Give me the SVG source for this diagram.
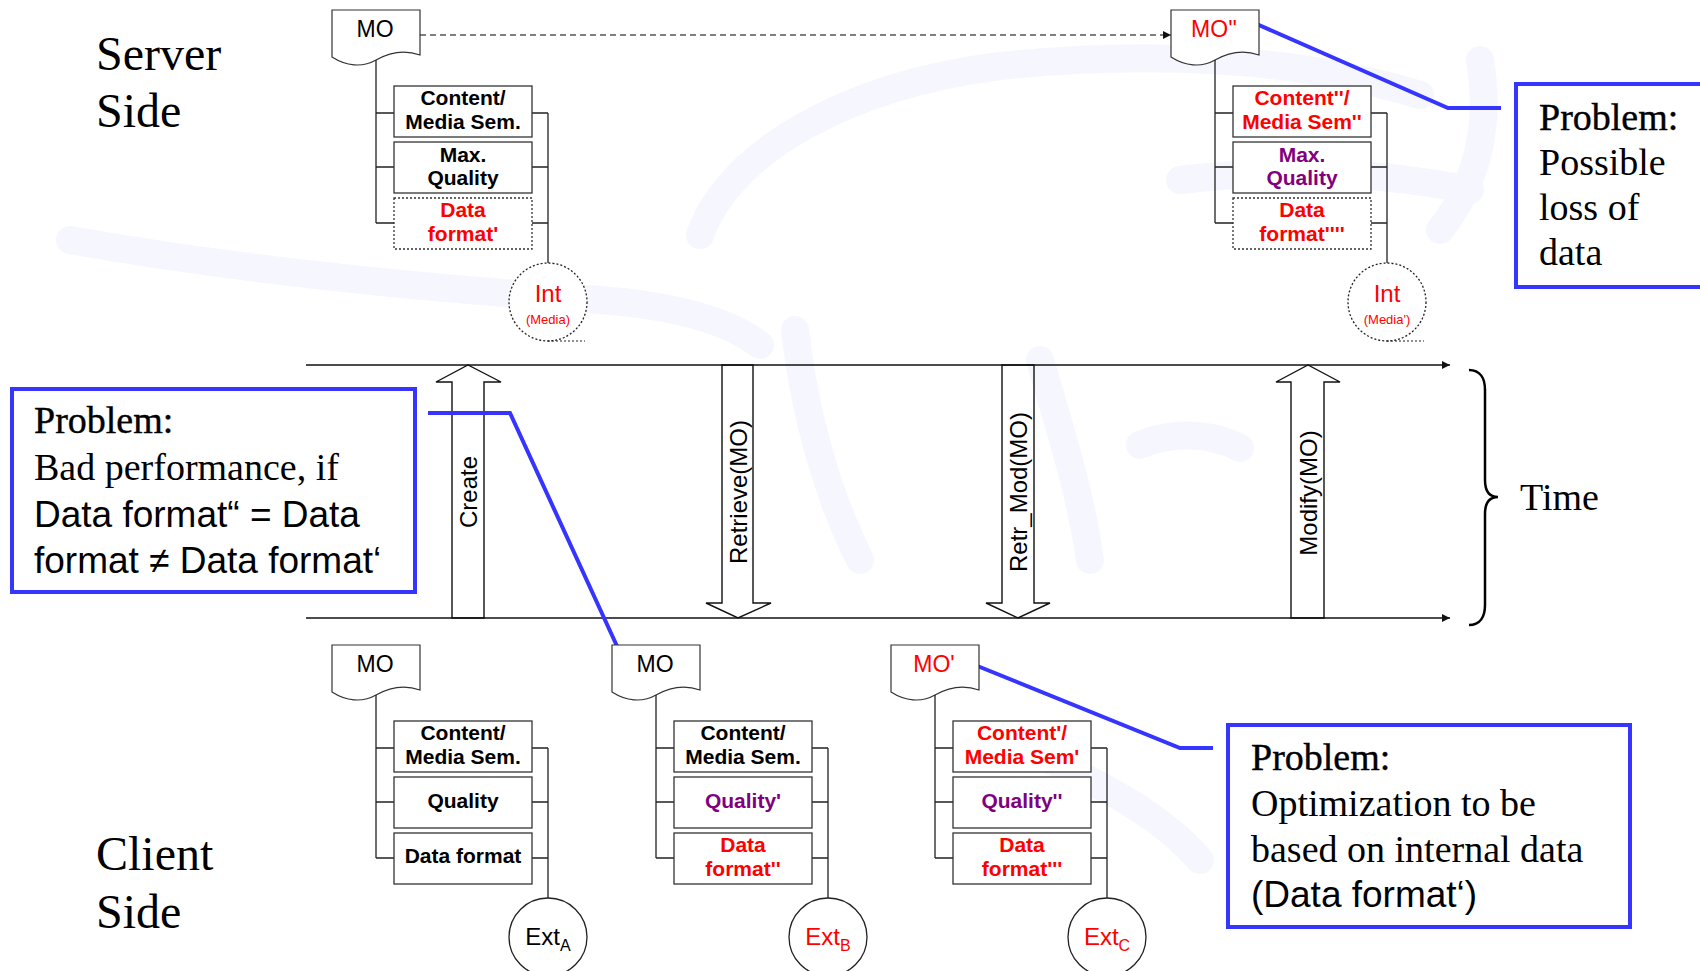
<svg xmlns="http://www.w3.org/2000/svg" width="1700" height="971" viewBox="0 0 1700 971">
  <style>
    .side { font-family: "Liberation Serif", "Times New Roman", serif; font-size: 48px; fill: #000; }
    .serif { font-family: "Liberation Serif", "Times New Roman", serif; font-size: 38px; fill: #000; }
    .head { stroke: #000; stroke-width: 0.4; }
    .sans { font-family: "Liberation Sans", Arial, sans-serif; font-size: 37px; fill: #000; }
    .doc { fill: #fff; stroke: #333; stroke-width: 1.2; }
    .docText { font-family: "Liberation Sans", Arial, sans-serif; font-size: 23px; text-anchor: middle; }
    .box { fill: #fff; stroke: #333; stroke-width: 1.3; }
    .dash { stroke-dasharray: 2 2; }
    .attr { font-family: "Liberation Sans", Arial, sans-serif; font-size: 21px; font-weight: bold; text-anchor: middle; }
    .tree { fill: none; stroke: #222; stroke-width: 1.3; }
    .circ { fill: #fff; stroke: #222; stroke-width: 1.3; }
    .circText { font-family: "Liberation Sans", Arial, sans-serif; font-size: 24px; text-anchor: middle; }
    .small { font-size: 13px; }
    .red { fill: #ff0000; }
    .purple { fill: #800080; }
    .black { fill: #000; }
    .axis { fill: none; stroke: #111; stroke-width: 1.5; }
    .block { fill: none; stroke: #111; stroke-width: 1.4; }
    .opLabel { font-family: "Liberation Sans", Arial, sans-serif; font-size: 24px; text-anchor: middle; dominant-baseline: central; }
    .callout { fill: none; stroke: #3535ff; stroke-width: 4; }
    .pbox { fill: #fff; stroke: #3535ff; stroke-width: 4; }
    .wm { fill: none; stroke: #f6f6fe; stroke-width: 28; stroke-linecap: round; }
  </style>
  <defs>
    <path id="docShape" d="M0,0 H88 V45 C74,40 58,42 44,50 C30,58 14,56 0,47 Z"/>
    <marker id="tip" viewBox="0 0 10 10" refX="10" refY="5" markerWidth="8" markerHeight="8" markerUnits="userSpaceOnUse" orient="auto">
      <path d="M0,0 L10,5 L0,10 Z" fill="#111"/>
    </marker>
  </defs>

  <rect width="1700" height="971" fill="#fff"/>

  <!-- faint background swirls -->
  <g id="watermark">
    <path class="wm" d="M70,240 C250,272 450,290 600,300 C680,306 730,322 760,345"/>
    <path class="wm" d="M700,235 C730,150 850,85 1000,66 C1150,50 1300,58 1420,95"/>
    <path class="wm" d="M1480,60 C1490,120 1480,180 1440,230"/>
    <path class="wm" d="M1180,180 C1280,168 1380,172 1470,190"/>
    <path class="wm" d="M795,330 C805,420 830,500 860,560"/>
    <path class="wm" d="M1040,360 C1060,430 1080,490 1090,560"/>
    <path class="wm" d="M1140,445 C1170,432 1210,432 1240,448"/>
    <path class="wm" d="M1050,760 C1110,790 1160,815 1200,860"/>
  </g>

  <!-- side labels -->
  <text class="side" x="96" y="70">Server</text>
  <text class="side" x="96" y="127">Side</text>
  <text class="side" x="96" y="870">Client</text>
  <text class="side" x="96" y="928">Side</text>

  <!-- connectors: timeline, operations, callout leaders -->
  <g id="connectors">
    <line x1="420" y1="35" x2="1171" y2="35" stroke="#555" stroke-width="1.3" stroke-dasharray="6 4" marker-end="url(#tip)"/>
    <line class="axis" x1="306" y1="365" x2="1450" y2="365" marker-end="url(#tip)"/>
    <line class="axis" x1="306" y1="618" x2="1450" y2="618" marker-end="url(#tip)"/>

    <polygon class="block" points="452,618 452,382 436,382 468,365 501,382 484,382 484,618"/>
    <text class="opLabel" transform="translate(468,492) rotate(-90)">Create</text>

    <polygon class="block" stroke="#555" points="722,365 722,603 706,603 738,618 771,603 753,603 753,365"/>
    <text class="opLabel" transform="translate(738,492) rotate(-90)">Retrieve(MO)</text>

    <polygon class="block" points="1002,365 1002,603 986,603 1018,618 1050,603 1034,603 1034,365"/>
    <text class="opLabel" transform="translate(1018,492) rotate(-90)">Retr_Mod(MO)</text>

    <polygon class="block" points="1291,618 1291,382 1276,382 1308,365 1340,382 1324,382 1324,618"/>
    <text class="opLabel" transform="translate(1308,493) rotate(-90)">Modify(MO)</text>

    <path fill="none" stroke="#000" stroke-width="2.5" d="M1469,370 C1480,370 1485,378 1485,390 V480 C1485,492 1490,497 1498,497 C1490,497 1485,502 1485,514 V605 C1485,617 1480,625 1469,625"/>
    <text class="serif" x="1520" y="510">Time</text>

    <polyline class="callout" points="428,413 510,413 622,657"/>
    <polyline class="callout" points="1252,22 1448,108 1501,108"/>
    <polyline class="callout" points="970,663 1180,748 1213,748"/>
  </g>

  <!-- server: MO -->
  <g id="server-mo" transform="translate(332,10)">
    <use href="#docShape" class="doc"/>
    <text class="docText black" x="43" y="27">MO</text>
    <path class="tree" d="M44,50 V213 M44,103 H62 M44,157 H62 M44,213 H62 M200,103 H216 M200,157 H216 M200,213 H216 M216,103 V253"/>
    <rect class="box" x="62" y="76" width="138" height="51"/>
    <rect class="box" x="62" y="132" width="138" height="51"/>
    <rect class="box dash" x="62" y="188" width="138" height="51"/>
    <text class="attr black" x="131" y="95">Content/</text>
    <text class="attr black" x="131" y="119">Media Sem.</text>
    <text class="attr black" x="131" y="152">Max.</text>
    <text class="attr black" x="131" y="175">Quality</text>
    <text class="attr red" x="131" y="207">Data</text>
    <text class="attr red" x="131" y="231">format'</text>
    <circle class="circ dash" cx="216" cy="292" r="39"/>
    <line x1="216" y1="331" x2="253" y2="331" stroke="#222" stroke-width="1.2" stroke-dasharray="2 2"/>
    <text class="circText red" x="216" y="292">Int</text>
    <text class="circText small red" x="216" y="314">(Media)</text>
  </g>

  <!-- server: MO'' -->
  <g id="server-mo2" transform="translate(1171,10)">
    <use href="#docShape" class="doc"/>
    <text class="docText red" x="43" y="27">MO''</text>
    <path class="tree" d="M44,50 V213 M44,103 H62 M44,157 H62 M44,213 H62 M200,103 H216 M200,157 H216 M200,213 H216 M216,103 V253"/>
    <rect class="box" x="62" y="76" width="138" height="51"/>
    <rect class="box" x="62" y="132" width="138" height="51"/>
    <rect class="box dash" x="62" y="188" width="138" height="51"/>
    <text class="attr red" x="131" y="95">Content''/</text>
    <text class="attr red" x="131" y="119">Media Sem''</text>
    <text class="attr purple" x="131" y="152">Max.</text>
    <text class="attr purple" x="131" y="175">Quality</text>
    <text class="attr red" x="131" y="207">Data</text>
    <text class="attr red" x="131" y="231">format''''</text>
    <circle class="circ dash" cx="216" cy="292" r="39"/>
    <line x1="216" y1="331" x2="253" y2="331" stroke="#222" stroke-width="1.2" stroke-dasharray="2 2"/>
    <text class="circText red" x="216" y="292">Int</text>
    <text class="circText small red" x="216" y="314">(Media')</text>
  </g>

  <!-- client A -->
  <g id="client-a" transform="translate(332,645)">
    <use href="#docShape" class="doc"/>
    <text class="docText black" x="43" y="27">MO</text>
    <path class="tree" d="M44,50 V213 M44,103 H62 M44,157 H62 M44,213 H62 M200,103 H216 M200,157 H216 M200,213 H216 M216,103 V253"/>
    <rect class="box" x="62" y="76" width="138" height="51"/>
    <rect class="box" x="62" y="132" width="138" height="51"/>
    <rect class="box" x="62" y="188" width="138" height="51"/>
    <text class="attr black" x="131" y="95">Content/</text>
    <text class="attr black" x="131" y="119">Media Sem.</text>
    <text class="attr black" x="131" y="163">Quality</text>
    <text class="attr black" x="131" y="218">Data format</text>
    <circle class="circ" cx="216" cy="292" r="39"/>
    <text class="circText black" x="216" y="300">Ext<tspan font-size="16" dy="6">A</tspan></text>
  </g>

  <!-- client B -->
  <g id="client-b" transform="translate(612,645)">
    <use href="#docShape" class="doc"/>
    <text class="docText black" x="43" y="27">MO</text>
    <path class="tree" d="M44,50 V213 M44,103 H62 M44,157 H62 M44,213 H62 M200,103 H216 M200,157 H216 M200,213 H216 M216,103 V253"/>
    <rect class="box" x="62" y="76" width="138" height="51"/>
    <rect class="box" x="62" y="132" width="138" height="51"/>
    <rect class="box" x="62" y="188" width="138" height="51"/>
    <text class="attr black" x="131" y="95">Content/</text>
    <text class="attr black" x="131" y="119">Media Sem.</text>
    <text class="attr purple" x="131" y="163">Quality'</text>
    <text class="attr red" x="131" y="207">Data</text>
    <text class="attr red" x="131" y="231">format''</text>
    <circle class="circ" cx="216" cy="292" r="39"/>
    <text class="circText red" x="216" y="300">Ext<tspan font-size="16" dy="6">B</tspan></text>
  </g>

  <!-- client C -->
  <g id="client-c" transform="translate(891,645)">
    <use href="#docShape" class="doc"/>
    <text class="docText red" x="43" y="27">MO'</text>
    <path class="tree" d="M44,50 V213 M44,103 H62 M44,157 H62 M44,213 H62 M200,103 H216 M200,157 H216 M200,213 H216 M216,103 V253"/>
    <rect class="box" x="62" y="76" width="138" height="51"/>
    <rect class="box" x="62" y="132" width="138" height="51"/>
    <rect class="box" x="62" y="188" width="138" height="51"/>
    <text class="attr red" x="131" y="95">Content'/</text>
    <text class="attr red" x="131" y="119">Media Sem'</text>
    <text class="attr purple" x="131" y="163">Quality''</text>
    <text class="attr red" x="131" y="207">Data</text>
    <text class="attr red" x="131" y="231">format'''</text>
    <circle class="circ" cx="216" cy="292" r="39"/>
    <text class="circText red" x="216" y="300">Ext<tspan font-size="16" dy="6">C</tspan></text>
  </g>

  <!-- problem notes -->
  <g id="problem-performance">
    <rect class="pbox" x="12" y="389" width="403" height="203"/>
    <text class="serif head" x="34" y="433">Problem:</text>
    <text class="serif" x="34" y="480">Bad performance, if</text>
    <text class="sans" x="34" y="527">Data format“ = Data</text>
    <text class="sans" x="34" y="573">format ≠ Data format‘</text>
  </g>

  <g id="problem-loss">
    <rect class="pbox" x="1516" y="84" width="200" height="203"/>
    <text class="serif head" x="1539" y="130">Problem:</text>
    <text class="serif" x="1539" y="175">Possible</text>
    <text class="serif" x="1539" y="220">loss of</text>
    <text class="serif" x="1539" y="265">data</text>
  </g>

  <g id="problem-optimization">
    <rect class="pbox" x="1228" y="725" width="402" height="202"/>
    <text class="serif head" x="1251" y="770">Problem:</text>
    <text class="serif" x="1251" y="816">Optimization to be</text>
    <text class="serif" x="1251" y="862">based on internal data</text>
    <text class="sans" x="1251" y="907">(Data format‘)</text>
  </g>
</svg>
